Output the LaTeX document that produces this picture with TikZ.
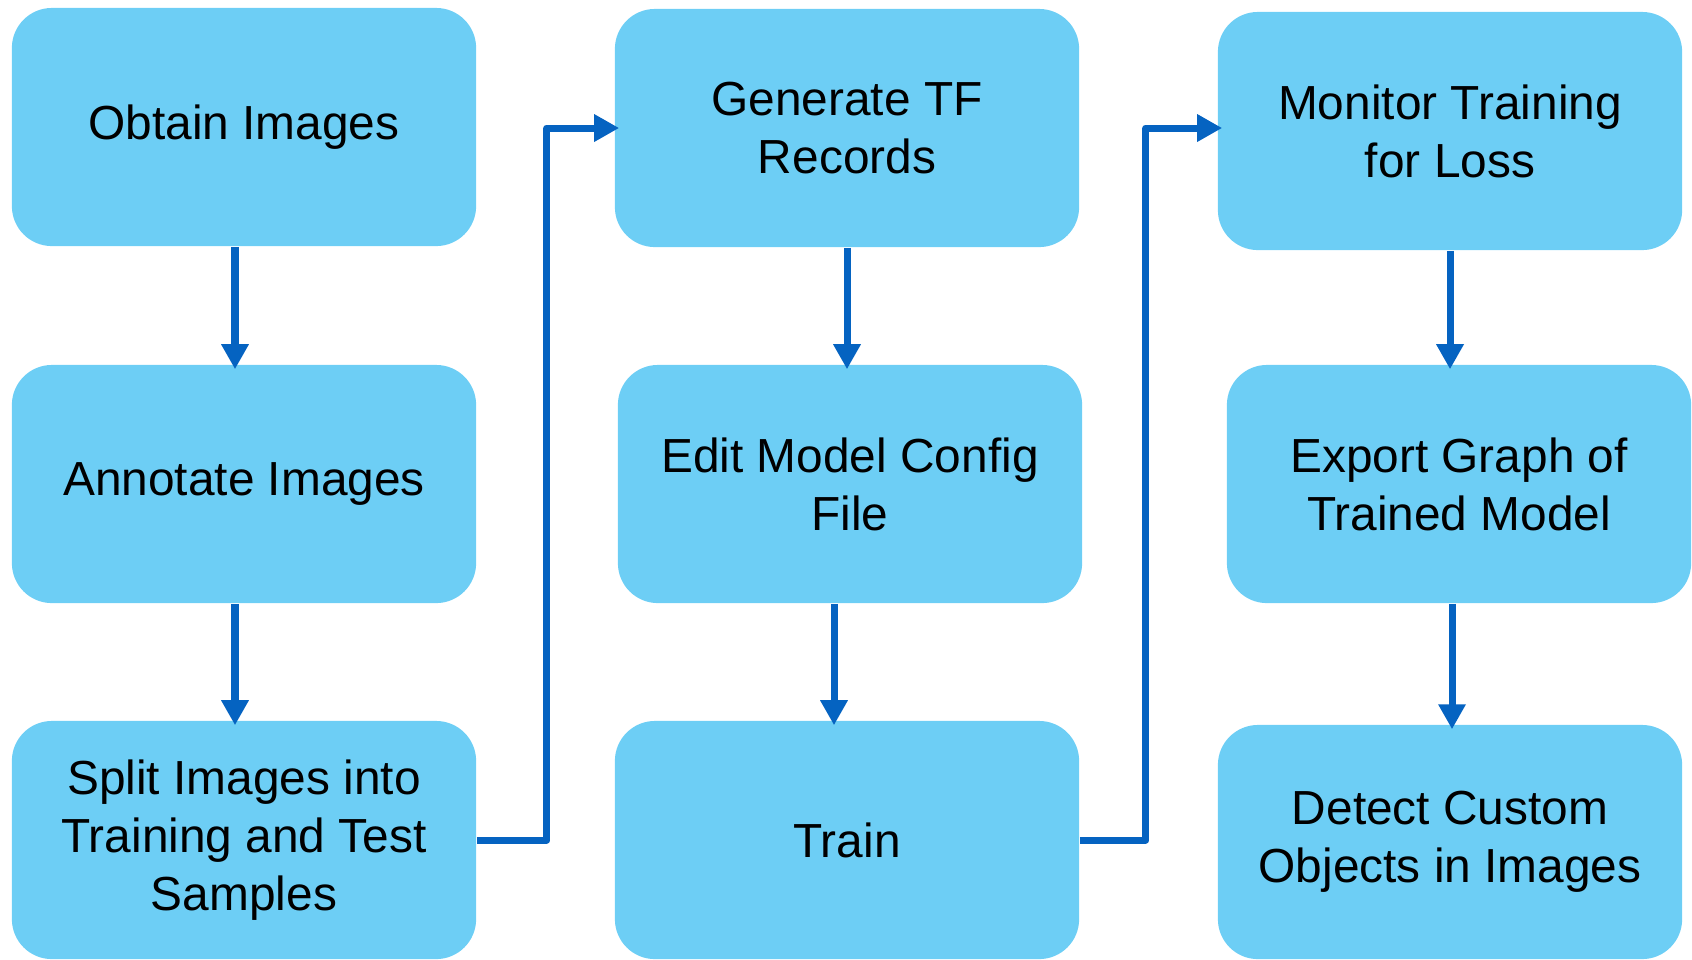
\documentclass[tikz,border=0pt]{standalone}
\usepackage{fontspec}
\setmainfont{Liberation Sans}
\usetikzlibrary{positioning,arrows.meta}
\definecolor{boxblue}{RGB}{109,206,245}
\definecolor{linkblue}{RGB}{5,99,193}
\tikzset{
    stage/.style={rectangle, rounded corners=0.4cm, fill=boxblue, draw=none, minimum width=4.64cm, minimum height=2.38cm, inner sep=0pt, align=center, font=\fontsize{13.6}{16.5}\selectfont},
    link/.style={draw=linkblue, line width=0.07cm, line join=round, shorten >=-0.05cm, -{Triangle[length=0.25cm, width=0.26cm]}}
}

\begin{document}
\begin{tikzpicture}[x=0.01cm, y=-0.01cm]
    \useasboundingbox (0,0) rectangle (1692,959);

    % Stage 1
    \node[stage] (obtain) at (244,127) {Obtain Images};
    \node[stage] (annotate) at (244,484) {Annotate Images};
    \node[stage] (split) at (244,840) {Split Images into\\Training and Test\\Samples};

    % Stage 2
    \node[stage] (records) at (847,128) {Generate TF\\Records};
    \node[stage] (config) at (850,484) {Edit Model Config\\File};
    \node[stage] (train) at (847,840) {Train};

    % Stage 3
    \node[stage] (monitor) at (1450,131) {Monitor Training\\for Loss};
    \node[stage] (export) at (1459,484) {Export Graph of\\Trained Model};
    \node[stage, minimum height=2.34cm] (detect) at (1450,842) {Detect Custom\\Objects in Images};

    % Arrows down each column
    \draw[link] ([xshift=-0.09cm]obtain.south) -- ([xshift=-0.09cm]obtain.south |- annotate.north);
    \draw[link] ([xshift=-0.09cm]annotate.south) -- ([xshift=-0.09cm]annotate.south |- split.north);
    \draw[link] (records.south) -- (records.south |- config.north);
    \draw[link] ([xshift=-0.16cm]config.south) -- ([xshift=-0.16cm]config.south |- train.north);
    \draw[link] (monitor.south) -- (monitor.south |- export.north);
    \draw[link] ([xshift=-0.07cm]export.south) -- ([xshift=-0.07cm]export.south |- detect.north);

    % Arrows between columns
    \draw[link] (split.east) -- ++(0.7cm,0) |- (records.west);
    \draw[link] (train.east) -- ++(0.66cm,0) |- ([yshift=0.03cm]monitor.west);

\end{tikzpicture}
\end{document}
